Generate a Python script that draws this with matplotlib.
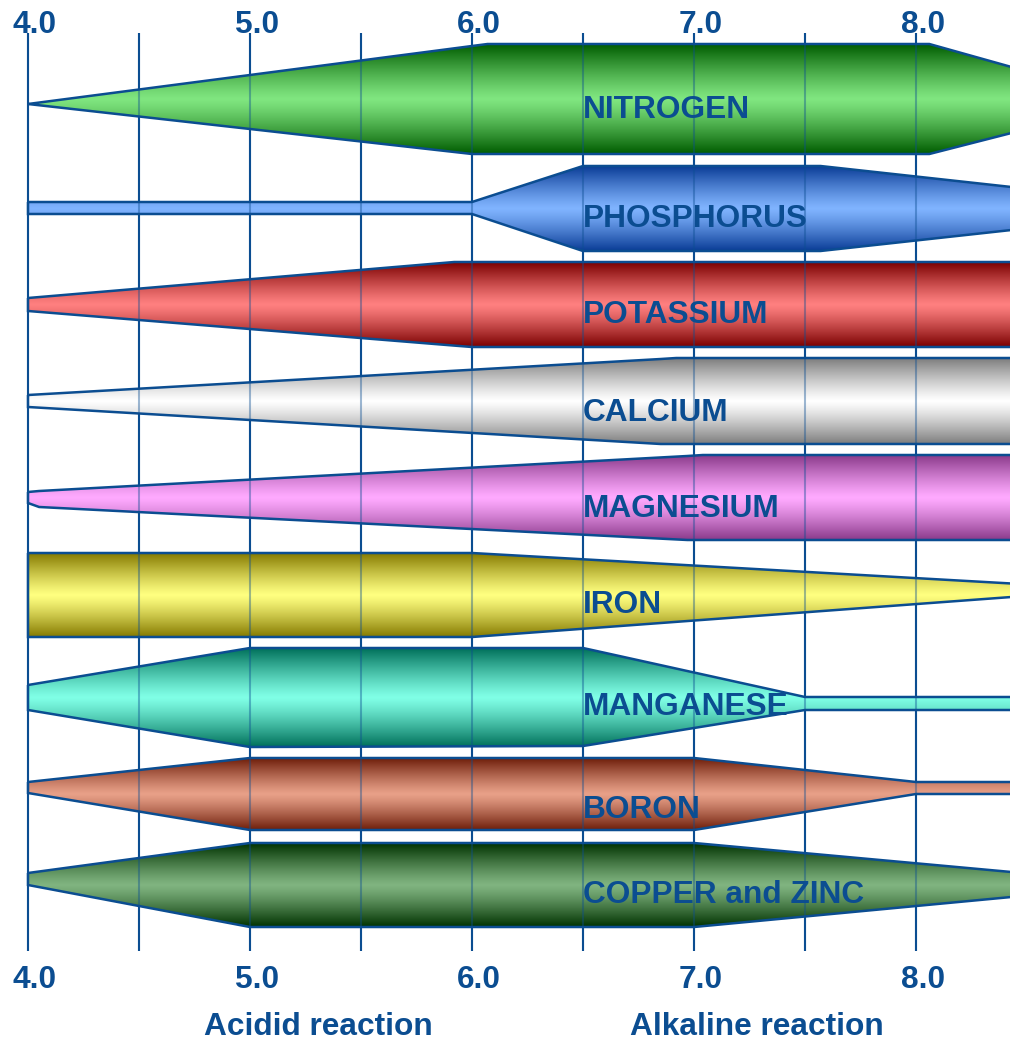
import numpy as np
import matplotlib.pyplot as plt
from matplotlib.patches import Polygon
from matplotlib.colors import to_rgb

plt.rcParams['font.family'] = ['Liberation Sans', 'DejaVu Sans']

# Nutrient availability vs soil pH.
# Each profile: pH breakpoints, extent above the row axis, extent below it.
nutrients = ['NITROGEN', 'PHOSPHORUS', 'POTASSIUM', 'CALCIUM', 'MAGNESIUM',
             'IRON', 'MANGANESE', 'BORON', 'COPPER and ZINC']

nitrogen = ([4.0, 6.0, 6.07, 8.06, 8.43], [0, 58, 60, 60, 37], [0, 50, 50, 50, 29])
phosphorus = ([4.0, 6.0, 6.5, 7.57, 8.43], [6, 6, 42, 42, 21], [6, 6, 43, 43, 22])
potassium = ([4.0, 5.92, 6.0, 8.43], [7, 43, 43, 43], [6, 40.6, 42, 42])
calcium = ([4.0, 6.85, 6.92, 8.43], [6, 42, 43, 43], [6, 43, 43, 43])
magnesium = ([4.0, 4.05, 6.97, 7.04, 8.43], [5, 6, 41, 42, 42], [6, 10, 43, 43, 43])
iron = ([4.0, 6.0, 8.43], [42, 42, 11.5], [42, 42, 2])
manganese = ([4.0, 5.0, 6.5, 7.5, 8.43], [13, 50, 50, 1, 1], [12, 49, 48, 12, 12])
boron = ([4.0, 5.0, 7.0, 8.0, 8.43], [6, 30, 30, 6, 6], [5, 42, 42, 6, 6])
copper_zinc = ([4.0, 5.0, 7.0, 8.43], [6, 36, 36, 7], [6, 48, 48, 18])

profiles = [nitrogen, phosphorus, potassium, calcium, magnesium,
            iron, manganese, boron, copper_zinc]

dark_colors = ['#005c00', '#0a3c96', '#7a0000', '#7d7d7d', '#8a3a8a',
               '#857a00', '#00705a', '#6e1e0a', '#003200']
light_colors = ['#80e680', '#80b4ff', '#ff8080', '#ffffff', '#ffaaff',
                '#ffff80', '#80ffe6', '#e8a088', '#80b480']

grid_ph = np.arange(4.0, 8.01, 0.5)
tick_ph = [4.0, 5.0, 6.0, 7.0, 8.0]
tick_labels = ['4.0', '5.0', '6.0', '7.0', '8.0']

# layout (pixel rows, y axis runs downward)
row_y = [104, 208, 305, 401, 497, 595, 698, 788, 879]
label_base = [118, 227, 323, 421, 517, 613, 715, 818, 903]
blue = '#0b4d91'

fig = plt.figure(figsize=(10.10, 10.42), dpi=100)
ax = fig.add_axes([0, 0, 1, 1])
px = 1 / 222.0  # pH units per pixel
x0 = 4.0 - 28 * px
x1 = 4.0 + (1010 - 28) * px

# grid lines, solid underneath and faint on top of the bands
ax.vlines(grid_ph, 33, 951, color=blue, lw=1.5, zorder=1)
ax.vlines(grid_ph, 33, 951, color=blue, lw=1.5, alpha=0.4, zorder=3)

n = 200
u = np.linspace(0, 1, n)
shade = np.abs(2 * u - 1) ** 1.2

for name, (ph, up, down), c, dk, lt, base in zip(nutrients, profiles, row_y,
                                                  dark_colors, light_colors, label_base):
    ph = np.array(ph)
    top = c - np.array(up, dtype=float)
    bot = c + np.array(down, dtype=float)
    verts = np.vstack([np.column_stack([ph, top]),
                       np.column_stack([ph[::-1], bot[::-1]])])
    poly = Polygon(verts, closed=True, facecolor='none', edgecolor=blue,
                   lw=1.8, joinstyle='miter', zorder=4)
    ax.add_patch(poly)

    d = np.array(to_rgb(dk))
    l = np.array(to_rgb(lt))
    grad = l[None, :] * (1 - shade[:, None]) + d[None, :] * shade[:, None]
    ytop, ybot = top.min(), bot.max()
    im = ax.imshow(grad[:, None, :], extent=(ph[0], ph[-1], ybot, ytop),
                   aspect='auto', interpolation='bilinear', zorder=2)
    im.set_clip_path(poly)

    ax.text(6.5, base, name, fontsize=22.8, fontweight='bold', color=blue,
            ha='left', va='baseline', zorder=5)

for p, t in zip(tick_ph, tick_labels):
    ax.text(p + 0.03, 33, t, fontsize=22.8, fontweight='bold', color=blue,
            ha='center', va='baseline')
    ax.text(p + 0.03, 988, t, fontsize=22.8, fontweight='bold', color=blue,
            ha='center', va='baseline')

ax.text(4.0 + (318 - 28) * px, 1035, 'Acidid reaction', fontsize=22.8,
        fontweight='bold', color=blue, ha='center', va='baseline')
ax.text(4.0 + (757 - 28) * px, 1035, 'Alkaline reaction', fontsize=22.8,
        fontweight='bold', color=blue, ha='center', va='baseline')

ax.set_xlim(x0, x1)
ax.set_ylim(1042, 0)
ax.axis('off')

fig.savefig('out.png', dpi=100)
